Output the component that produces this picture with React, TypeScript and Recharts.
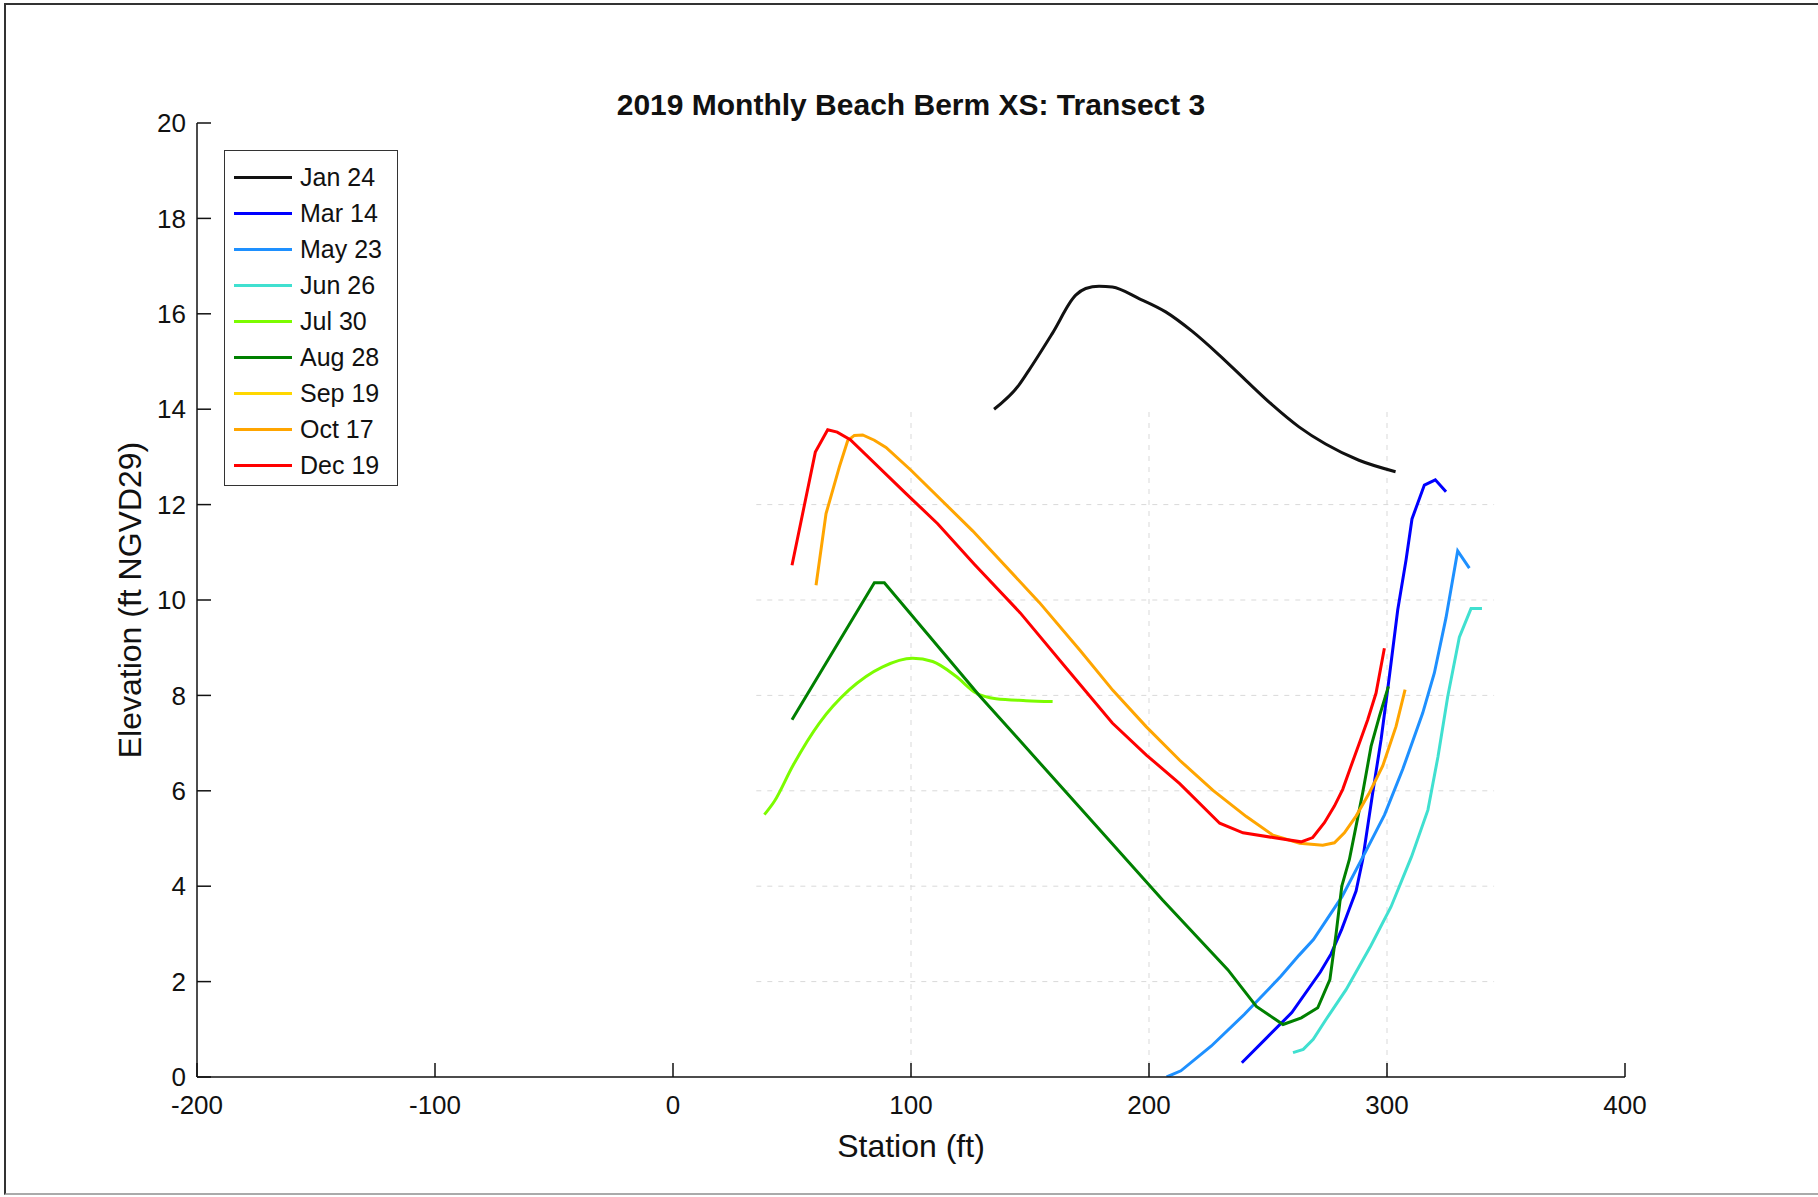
import { LineChart, Line, XAxis, YAxis, ReferenceLine } from 'recharts';

// survey dates and colours
const seriesNames = ['Jan 24', 'Mar 14', 'May 23', 'Jun 26', 'Jul 30', 'Aug 28', 'Sep 19', 'Oct 17', 'Dec 19'];
const seriesColors = ['#111111', '#0000ff', '#1e90ff', '#40e0d0', '#7cfc00', '#008000', '#ffd700', '#ffa500', '#ff0000'];

// [station ft, elevation ft]
const jan24 = [
  [134.9, 14.0], [145.4, 14.51], [149.6, 14.82], [159.4, 15.59], [169.2, 16.39], [173.4, 16.53],
  [179, 16.58], [184.6, 16.56], [195.8, 16.32], [207, 16.04], [218.2, 15.63], [229.4, 15.14],
  [240.6, 14.61], [251.8, 14.09], [263, 13.63], [274.2, 13.27], [288.2, 12.93], [303.6, 12.69],
];
const mar14 = [
  [239, 0.3], [249, 0.8], [260, 1.35], [272, 2.2], [276.5, 2.58], [281, 3.1], [284, 3.5], [287, 3.9],
  [289.8, 4.56], [294, 5.96], [297.5, 7.07], [301, 8.4], [304.5, 9.79], [308, 10.84], [310.5, 11.7],
  [315.7, 12.41], [320.3, 12.52], [324.8, 12.27],
];
const may23 = [
  [207.4, 0], [213.4, 0.13], [226.2, 0.65], [240, 1.31], [255.4, 2.11], [263, 2.55], [269.1, 2.88],
  [281.1, 3.78], [291.3, 4.75], [299, 5.5], [306.6, 6.45], [315, 7.63], [319.9, 8.47],
  [324.8, 9.63], [329.7, 11.03], [334.6, 10.67],
];
const jun26 = [
  [260.5, 0.51], [264.8, 0.58], [269, 0.79], [274.3, 1.2], [282.8, 1.83], [293.1, 2.74], [301.7, 3.57],
  [310.3, 4.62], [317.2, 5.6], [321.4, 6.71], [325.5, 7.97], [330.4, 9.22], [335.3, 9.82], [339.9, 9.82],
];
const jul30 = [
  [38.4, 5.5], [42.6, 5.78], [50.3, 6.52], [61.5, 7.42], [74.1, 8.12], [88.1, 8.6], [100.7, 8.78],
  [109.1, 8.71], [118.9, 8.4], [127.3, 8.05], [135.7, 7.93], [148.3, 7.89], [159.5, 7.87],
];
const aug28 = [
  [50, 7.49], [84.6, 10.36], [88.8, 10.36], [128.7, 8.0], [174.5, 5.45], [205.7, 3.71], [233.1, 2.25],
  [245.1, 1.48], [256.3, 1.1], [264, 1.24], [270.9, 1.45], [276, 2.04], [278.6, 3.0], [281, 4.0],
  [284.2, 4.56], [287, 5.26], [289.8, 5.96], [293.3, 6.93], [296.8, 7.56], [300.6, 8.19],
];
const sep19: number[][] = [];
const oct17 = [
  [60.1, 10.31], [64.3, 11.81], [69.9, 12.79], [73.4, 13.34], [76.2, 13.45], [79.7, 13.46], [84.6, 13.35],
  [89.5, 13.2], [100, 12.72], [125.9, 11.45], [153.9, 9.95], [170.9, 8.95], [184.9, 8.1], [198.9, 7.34],
  [212.9, 6.64], [226.9, 6.01], [240.9, 5.46], [252.1, 5.07], [263.3, 4.9], [273, 4.86], [277.9, 4.91],
  [282.1, 5.12], [287, 5.47], [292.6, 5.96], [298.2, 6.52], [303.8, 7.35], [307.6, 8.12],
];
const dec19 = [
  [50, 10.73], [59.8, 13.1], [65, 13.57], [69, 13.52], [74.5, 13.36], [97.7, 12.24], [111.2, 11.6],
  [126.6, 10.75], [145.9, 9.73], [165.3, 8.57], [184.6, 7.42], [198.9, 6.75], [212.9, 6.15],
  [229.7, 5.32], [239.5, 5.12], [252.1, 5.02], [263.9, 4.93], [268.8, 5.02], [273.7, 5.33],
  [277.9, 5.68], [281.4, 6.03], [284.9, 6.52], [288.4, 7.0], [291.9, 7.49], [295.4, 8.05], [298.9, 8.99],
];
const seriesValues = [jan24, mar14, may23, jun26, jul30, aug28, sep19, oct17, dec19];
const smoothSeries = ['Jan 24', 'Jul 30'];

const xTicks = [-200, -100, 0, 100, 200, 300, 400];
const yTicks = [0, 2, 4, 6, 8, 10, 12, 14, 16, 18, 20];

// the faint partial grid in the source figure
const gridXs = [100, 200, 300];
const gridYs = [2, 4, 6, 8, 10, 12];
const gridLeft = 35;
const gridRight = 345;
const gridTop = 14;

const font = '"Liberation Sans", Arial, sans-serif';

export default function App() {
  const series = seriesNames.map((name, i) => ({
    name,
    color: seriesColors[i],
    data: seriesValues[i].map(([x, y]) => ({ x, y })),
  }));

  return (
    <div style={{ position: 'relative', width: 1818, height: 1197, background: '#fff', fontFamily: font }}>
      <style>{'body { margin: 0; }'}</style>
      <div
        style={{
          position: 'absolute', left: 4, top: 3, right: 0, bottom: 2,
          borderTop: '2px solid #333', borderLeft: '2px solid #333', borderBottom: '2px solid #aaa',
        }}
      />
      <LineChart
        width={1818}
        height={1197}
        margin={{ top: 123, right: 193, bottom: 0, left: 63 }}
        style={{ position: 'absolute', left: 0, top: 0, fontFamily: font }}
      >
        <XAxis
          type="number"
          dataKey="x"
          domain={[-200, 400]}
          ticks={xTicks}
          allowDataOverflow
          height={120}
          tickSize={-14}
          tickMargin={33}
          tick={{ fontSize: 26, fill: '#111' }}
          stroke="#111"
          strokeWidth={1.5}
          label={{ value: 'Station (ft)', position: 'insideBottom', offset: 40, fontSize: 32, fill: '#111' }}
        />
        <YAxis
          type="number"
          domain={[0, 20]}
          ticks={yTicks}
          allowDataOverflow
          width={134}
          tickSize={-14}
          tickMargin={25}
          tick={{ fontSize: 26, fill: '#111' }}
          stroke="#111"
          strokeWidth={1.5}
          label={{ value: 'Elevation (ft NGVD29)', angle: -90, position: 'center', fontSize: 32, fill: '#111' }}
        />
        {gridYs.map((y) => (
          <ReferenceLine
            key={`gy${y}`}
            segment={[{ x: gridLeft, y }, { x: gridRight, y }]}
            stroke="#d9d9d9"
            strokeDasharray="5 6"
          />
        ))}
        {gridXs.map((x) => (
          <ReferenceLine
            key={`gx${x}`}
            segment={[{ x, y: 0 }, { x, y: gridTop }]}
            stroke="#d9d9d9"
            strokeDasharray="5 6"
          />
        ))}
        {series.map((s) => (
          <Line
            key={s.name}
            data={s.data}
            dataKey="y"
            name={s.name}
            type={smoothSeries.includes(s.name) ? 'monotone' : 'linear'}
            stroke={s.color}
            strokeWidth={3}
            dot={false}
            activeDot={false}
            isAnimationActive={false}
          />
        ))}
      </LineChart>
      <div
        style={{
          position: 'absolute', left: 0, width: 1822, top: 90, textAlign: 'center',
          fontSize: 30, fontWeight: 'bold', lineHeight: '30px', color: '#111',
        }}
      >
        2019 Monthly Beach Berm XS: Transect 3
      </div>
      <div
        style={{
          position: 'absolute', left: 224, top: 150, width: 172, height: 334,
          border: '1px solid #333', background: '#fff',
        }}
      >
        {series.map((s, i) => (
          <div
            key={s.name}
            style={{ position: 'absolute', left: 9, top: 10 + i * 36, height: 32, display: 'flex', alignItems: 'center' }}
          >
            <div style={{ width: 58, height: 3, background: s.color }} />
            <span style={{ marginLeft: 8, fontSize: 25, color: '#111', whiteSpace: 'nowrap' }}>{s.name}</span>
          </div>
        ))}
      </div>
    </div>
  );
}
